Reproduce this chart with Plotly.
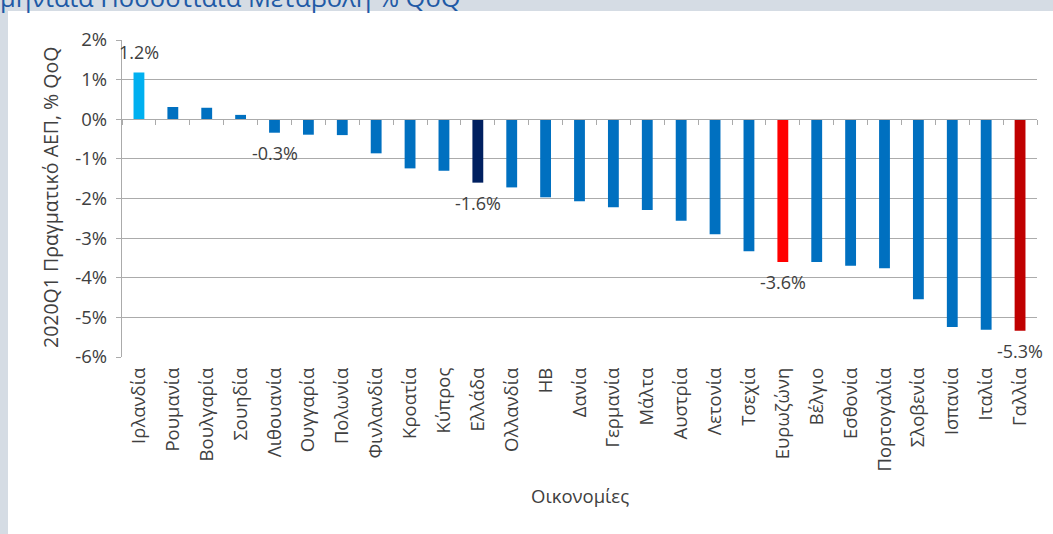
import plotly.graph_objects as go

categories = ["Ιρλανδία", "Ρουμανία", "Βουλγαρία", "Σουηδία", "Λιθουανία", "Ουγγαρία",
              "Πολωνία", "Φινλανδία", "Κροατία", "Κύπρος", "Ελλάδα", "Ολλανδία", "ΗΒ",
              "Δανία", "Γερμανία", "Μάλτα", "Αυστρία", "Λετονία", "Τσεχία", "Ευρωζώνη",
              "Βέλγιο", "Εσθονία", "Πορτογαλία", "Σλοβενία", "Ισπανία", "Ιταλία", "Γαλλία"]
qoq_change = [1.18, 0.31, 0.29, 0.11, -0.34, -0.39, -0.40, -0.86, -1.24, -1.30, -1.60,
              -1.72, -1.97, -2.07, -2.22, -2.29, -2.56, -2.90, -3.33, -3.60, -3.60, -3.70,
              -3.76, -4.54, -5.24, -5.31, -5.34]
labelled = ["Ιρλανδία", "Λιθουανία", "Ελλάδα", "Ευρωζώνη", "Γαλλία"]
y_ticks = [2, 1, 0, -1, -2, -3, -4, -5, -6]

highlight = {"Ιρλανδία": "#00B0F0", "Ελλάδα": "#002060", "Ευρωζώνη": "#FF0000", "Γαλλία": "#C00000"}
base_color = "#0070C0"
bar_colors = [highlight.get(c, base_color) for c in categories]

FONT = "Open Sans"
TXT = "#404040"
GRID = "#ababab"
BAND = "#d5dce4"

W, H = 1053, 534
ML, MR, MT, MB = 122, 16, 40, 177
pw, ph = W - ML - MR, H - MT - MB

fig = go.Figure()
fig.add_trace(go.Bar(x=categories, y=qoq_change, marker=dict(color=bar_colors, line=dict(width=0)),
                     hoverinfo="skip", showlegend=False))
fig.add_trace(go.Scatter(x=categories, y=qoq_change, xaxis="x2", mode="markers",
                         marker=dict(opacity=0), hoverinfo="skip", showlegend=False))

for c, v in zip(categories, qoq_change):
    if c in labelled:
        fig.add_annotation(x=c, y=v, xref="x", yref="y", text=f"{v:.1f}%", showarrow=False,
                           yshift=20 if v > 0 else -20, font=dict(family=FONT, size=18, color=TXT))

def px_x(p):
    return (p - ML) / pw

def px_y(p):
    return 1 - (p - MT) / ph

fig.add_shape(type="rect", xref="paper", yref="paper", x0=px_x(0), x1=px_x(W), y0=px_y(0), y1=px_y(11),
              fillcolor=BAND, line=dict(width=0), layer="below")
fig.add_shape(type="rect", xref="paper", yref="paper", x0=px_x(0), x1=px_x(8), y0=px_y(0), y1=px_y(H),
              fillcolor=BAND, line=dict(width=0), layer="below")

fig.add_annotation(text="Τριμηνιαία Ποσοστιαία Μεταβολή % QoQ", xref="paper", yref="paper",
                   x=px_x(463), y=px_y(16), xanchor="right", yanchor="bottom", showarrow=False,
                   font=dict(family=FONT, size=25.5, color="#1f5aa6"))
fig.add_annotation(text="2020Q1 Πραγματικό ΑΕΠ, % QoQ", xref="paper", yref="paper",
                   x=px_x(50), y=px_y(198), xanchor="center", yanchor="middle", textangle=-90,
                   showarrow=False, font=dict(family=FONT, size=19.5, color=TXT))
fig.add_annotation(text="Οικονομίες", xref="paper", yref="paper",
                   x=px_x(580), y=px_y(495), xanchor="center", yanchor="middle",
                   showarrow=False, font=dict(family=FONT, size=18.5, color=TXT))

fig.update_layout(
    width=W, height=H, margin=dict(l=ML, r=MR, t=MT, b=MB),
    paper_bgcolor="white", plot_bgcolor="white", bargap=0.68,
    font=dict(family=FONT, size=18, color=TXT),
    xaxis=dict(type="category", categoryarray=categories, categoryorder="array",
               range=[-0.5, len(categories) - 0.5], tickangle=-90, showgrid=False,
               showline=False, ticks="", zeroline=False, ticklabelstandoff=6,
               tickfont=dict(size=18.5, color=TXT)),
    xaxis2=dict(type="category", categoryarray=categories, categoryorder="array", matches="x",
                overlaying="x", anchor="free", position=0.75, side="bottom",
                showticklabels=False, ticks="outside", tickson="boundaries", ticklen=5,
                tickcolor=GRID, tickwidth=1.3, showline=True, linecolor=GRID, linewidth=1.3,
                showgrid=False, zeroline=False),
    yaxis=dict(range=[-6, 2], tickvals=y_ticks, ticktext=[f"{t}%" for t in y_ticks],
               showgrid=True, gridcolor=GRID, gridwidth=1.3, showline=True, linecolor=GRID,
               linewidth=1.3, ticks="outside", ticklen=5, tickcolor=GRID, zeroline=False,
               ticklabelstandoff=5, tickfont=dict(size=18.5, color=TXT)),
)

fig.write_html("out.html")
